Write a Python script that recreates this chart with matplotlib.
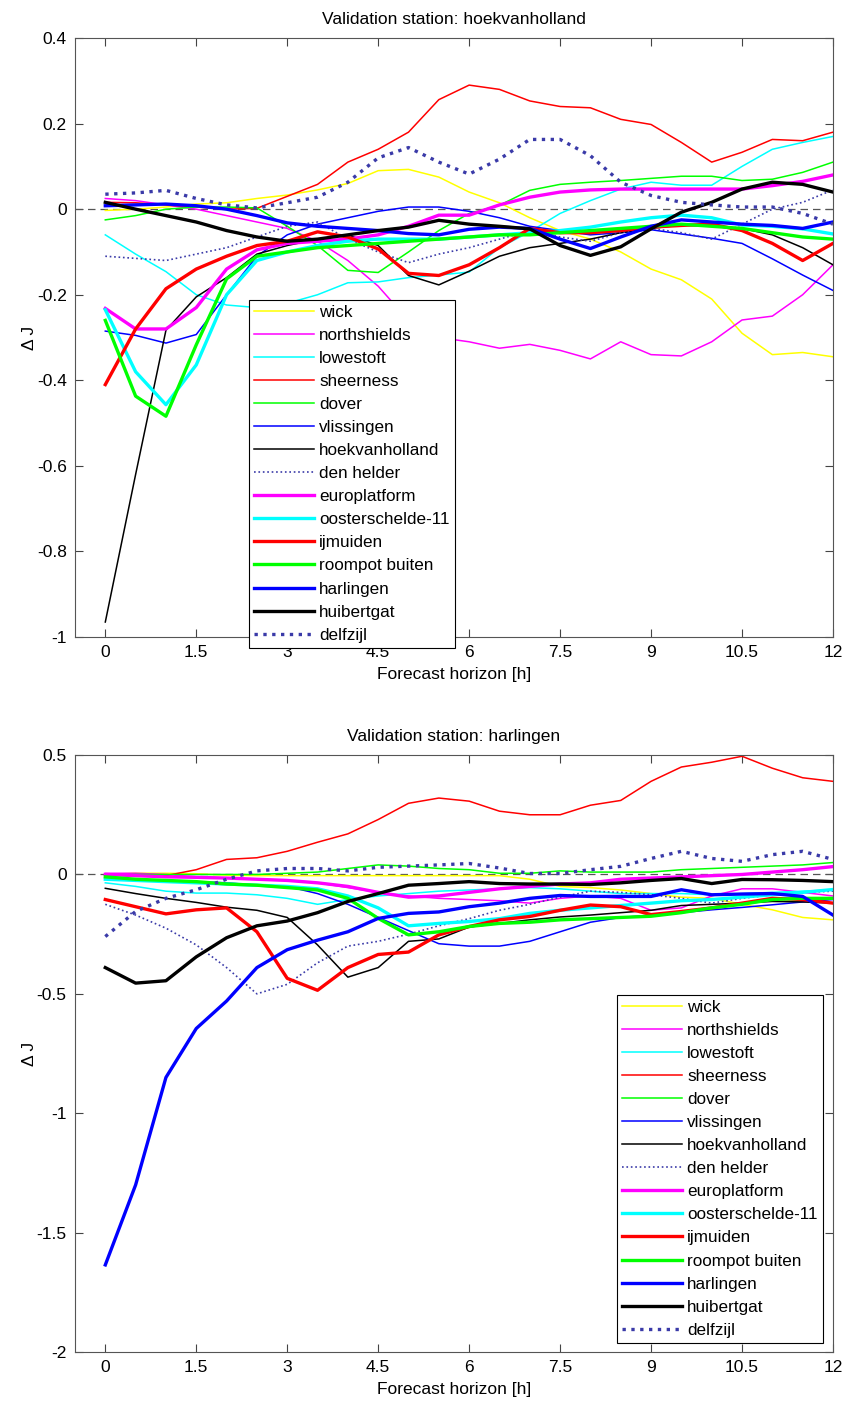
import matplotlib
matplotlib.use('Agg')
import matplotlib.pyplot as plt
import numpy as np

plt.rcParams['font.family'] = ['Liberation Sans', 'DejaVu Sans']

# forecast horizon (h)
hours = np.arange(0, 12.5, 0.5)

stations = ['wick', 'northshields', 'lowestoft', 'sheerness', 'dover', 'vlissingen',
            'hoekvanholland', 'den helder', 'europlatform', 'oosterschelde-11',
            'ijmuiden', 'roompot buiten', 'harlingen', 'huibertgat', 'delfzijl']

# ---- validation station: hoekvanholland ----
hvh_wick = [-0.003, 0.0, 0.005, 0.012, 0.015, 0.025, 0.033, 0.045, 0.06, 0.09, 0.093, 0.075, 0.04,
            0.015, -0.02, -0.05, -0.07, -0.1, -0.14, -0.165, -0.21, -0.29, -0.34, -0.335, -0.345]
hvh_northshields = [0.025, 0.02, 0.01, 0.0, -0.015, -0.03, -0.045, -0.075, -0.12, -0.18, -0.26, -0.3, -0.31,
                    -0.325, -0.316, -0.33, -0.35, -0.31, -0.34, -0.343, -0.31, -0.259, -0.25, -0.2, -0.13]
hvh_lowestoft = [-0.06, -0.105, -0.146, -0.2, -0.224, -0.23, -0.22, -0.2, -0.172, -0.17, -0.16, -0.154, -0.147,
                 -0.09, -0.053, -0.01, 0.02, 0.047, 0.063, 0.056, 0.056, 0.1, 0.14, 0.156, 0.17]
hvh_sheerness = [0.016, 0.015, 0.01, 0.005, 0.0, 0.002, 0.03, 0.058, 0.11, 0.14, 0.18, 0.256, 0.29,
                 0.28, 0.253, 0.24, 0.237, 0.21, 0.198, 0.156, 0.11, 0.133, 0.163, 0.16, 0.18]
hvh_dover = [-0.025, -0.015, 0.0, 0.005, 0.005, 0.003, -0.04, -0.085, -0.143, -0.148, -0.1, -0.05, -0.01,
             0.009, 0.044, 0.058, 0.063, 0.067, 0.072, 0.077, 0.077, 0.067, 0.07, 0.086, 0.11]
hvh_vlissingen = [-0.285, -0.295, -0.313, -0.293, -0.2, -0.11, -0.06, -0.035, -0.02, -0.005, 0.005, 0.005, -0.005,
                  -0.02, -0.04, -0.05, -0.06, -0.055, -0.048, -0.058, -0.068, -0.08, -0.116, -0.154, -0.19]
hvh_hoekvanholland = [-0.965, -0.62, -0.283, -0.205, -0.16, -0.105, -0.085, -0.07, -0.06, -0.085, -0.155, -0.177, -0.145,
                      -0.11, -0.09, -0.08, -0.07, -0.055, -0.045, -0.037, -0.04, -0.045, -0.06, -0.09, -0.13]
hvh_denhelder = [-0.11, -0.115, -0.12, -0.105, -0.09, -0.065, -0.04, -0.03, -0.07, -0.1, -0.125, -0.105, -0.09,
                 -0.07, -0.05, -0.065, -0.075, -0.055, -0.045, -0.055, -0.07, -0.035, 0.0, 0.016, 0.045]
hvh_europlatform = [-0.232, -0.28, -0.28, -0.23, -0.14, -0.095, -0.08, -0.075, -0.07, -0.06, -0.04, -0.014, -0.014,
                    0.01, 0.028, 0.04, 0.045, 0.047, 0.047, 0.047, 0.047, 0.047, 0.055, 0.065, 0.08]
hvh_oosterschelde = [-0.235, -0.38, -0.457, -0.364, -0.2, -0.12, -0.1, -0.085, -0.075, -0.07, -0.07, -0.07, -0.065,
                     -0.06, -0.055, -0.05, -0.042, -0.03, -0.02, -0.014, -0.02, -0.037, -0.04, -0.046, -0.058]
hvh_ijmuiden = [-0.41, -0.28, -0.186, -0.14, -0.11, -0.085, -0.075, -0.053, -0.065, -0.093, -0.15, -0.155, -0.13,
                -0.09, -0.045, -0.055, -0.055, -0.05, -0.042, -0.038, -0.035, -0.05, -0.08, -0.12, -0.08]
hvh_roompot = [-0.26, -0.437, -0.484, -0.317, -0.163, -0.11, -0.1, -0.09, -0.085, -0.08, -0.075, -0.07, -0.065,
               -0.06, -0.06, -0.055, -0.05, -0.045, -0.04, -0.035, -0.04, -0.045, -0.055, -0.065, -0.07]
hvh_harlingen = [0.008, 0.01, 0.012, 0.008, 0.0, -0.015, -0.032, -0.04, -0.045, -0.05, -0.057, -0.06, -0.047,
                 -0.042, -0.045, -0.07, -0.092, -0.065, -0.04, -0.025, -0.03, -0.035, -0.038, -0.045, -0.03]
hvh_huibertgat = [0.016, 0.0, -0.015, -0.03, -0.05, -0.065, -0.075, -0.07, -0.06, -0.05, -0.042, -0.026, -0.035,
                  -0.04, -0.046, -0.085, -0.108, -0.088, -0.046, -0.007, 0.016, 0.047, 0.063, 0.058, 0.04]
hvh_delfzijl = [0.035, 0.038, 0.044, 0.025, 0.01, 0.003, 0.015, 0.028, 0.063, 0.12, 0.144, 0.11, 0.082,
                0.117, 0.163, 0.163, 0.125, 0.063, 0.032, 0.016, 0.01, 0.005, 0.005, -0.01, -0.035]

# ---- validation station: harlingen ----
har_wick = [0.0, 0.005, 0.005, 0.003, -0.003, -0.005, -0.005, -0.005, -0.005, -0.005, -0.005, -0.005, -0.005,
            -0.005, -0.02, -0.05, -0.055, -0.065, -0.08, -0.095, -0.1, -0.125, -0.148, -0.18, -0.19]
har_northshields = [0.005, 0.005, 0.0, -0.01, -0.015, -0.02, -0.025, -0.035, -0.055, -0.075, -0.09, -0.1, -0.105,
                    -0.11, -0.12, -0.1, -0.09, -0.1, -0.15, -0.14, -0.09, -0.06, -0.06, -0.075, -0.09]
har_lowestoft = [-0.035, -0.05, -0.07, -0.078, -0.078, -0.085, -0.1, -0.125, -0.105, -0.09, -0.08, -0.07, -0.065,
                 -0.06, -0.055, -0.06, -0.07, -0.08, -0.08, -0.08, -0.085, -0.08, -0.075, -0.07, -0.065]
har_sheerness = [0.0, -0.005, -0.005, 0.02, 0.063, 0.07, 0.097, 0.135, 0.17, 0.23, 0.298, 0.32, 0.307,
                 0.265, 0.25, 0.25, 0.29, 0.31, 0.39, 0.45, 0.47, 0.495, 0.445, 0.405, 0.39]
har_dover = [-0.005, 0.0, 0.0, 0.0, 0.0, 0.0, 0.005, 0.01, 0.025, 0.04, 0.035, 0.025, 0.02,
             0.005, 0.005, 0.015, 0.01, 0.01, 0.01, 0.02, 0.025, 0.03, 0.035, 0.04, 0.05]
har_vlissingen = [-0.015, -0.02, -0.025, -0.03, -0.035, -0.045, -0.05, -0.08, -0.125, -0.18, -0.235, -0.29, -0.3,
                  -0.3, -0.28, -0.24, -0.2, -0.18, -0.17, -0.16, -0.148, -0.138, -0.127, -0.115, -0.105]
har_hoekvanholland = [-0.058, -0.08, -0.1, -0.117, -0.137, -0.15, -0.18, -0.295, -0.43, -0.39, -0.28, -0.27, -0.22,
                      -0.205, -0.19, -0.178, -0.17, -0.16, -0.15, -0.13, -0.125, -0.12, -0.113, -0.115, -0.12]
har_denhelder = [-0.125, -0.17, -0.225, -0.295, -0.39, -0.5, -0.46, -0.37, -0.3, -0.28, -0.25, -0.215, -0.185,
                 -0.15, -0.125, -0.095, -0.07, -0.075, -0.085, -0.1, -0.12, -0.1, -0.085, -0.075, -0.07]
har_europlatform = [0.0, -0.005, -0.01, -0.012, -0.015, -0.02, -0.025, -0.035, -0.05, -0.075, -0.095, -0.09, -0.075,
                    -0.06, -0.05, -0.04, -0.035, -0.02, -0.015, -0.01, -0.005, 0.0, 0.01, 0.02, 0.033]
har_oosterschelde = [-0.02, -0.025, -0.03, -0.035, -0.04, -0.045, -0.05, -0.06, -0.09, -0.14, -0.215, -0.205, -0.197,
                     -0.185, -0.163, -0.15, -0.14, -0.13, -0.12, -0.11, -0.105, -0.095, -0.085, -0.075, -0.063]
har_ijmuiden = [-0.105, -0.135, -0.165, -0.148, -0.14, -0.24, -0.435, -0.485, -0.39, -0.335, -0.325, -0.253, -0.218,
                -0.19, -0.176, -0.15, -0.128, -0.135, -0.168, -0.155, -0.14, -0.12, -0.1, -0.105, -0.12]
har_roompot = [-0.01, -0.02, -0.025, -0.03, -0.04, -0.045, -0.055, -0.065, -0.1, -0.184, -0.253, -0.24, -0.218,
               -0.205, -0.2, -0.19, -0.185, -0.18, -0.175, -0.16, -0.14, -0.125, -0.105, -0.1, -0.1]
har_harlingen = [-1.635, -1.3, -0.85, -0.645, -0.53, -0.39, -0.315, -0.275, -0.24, -0.184, -0.163, -0.157, -0.135,
                 -0.12, -0.1, -0.088, -0.092, -0.092, -0.092, -0.064, -0.085, -0.082, -0.08, -0.092, -0.17]
har_huibertgat = [-0.39, -0.455, -0.445, -0.345, -0.265, -0.215, -0.195, -0.16, -0.113, -0.08, -0.045, -0.038, -0.03,
                  -0.038, -0.04, -0.04, -0.042, -0.035, -0.025, -0.017, -0.038, -0.021, -0.022, -0.025, -0.03]
har_delfzijl = [-0.26, -0.155, -0.1, -0.064, -0.02, 0.015, 0.025, 0.025, 0.015, 0.03, 0.035, 0.04, 0.046,
                0.027, 0.004, 0.004, 0.02, 0.034, 0.067, 0.097, 0.067, 0.055, 0.083, 0.097, 0.063]

top_series = [hvh_wick, hvh_northshields, hvh_lowestoft, hvh_sheerness, hvh_dover, hvh_vlissingen,
              hvh_hoekvanholland, hvh_denhelder, hvh_europlatform, hvh_oosterschelde, hvh_ijmuiden,
              hvh_roompot, hvh_harlingen, hvh_huibertgat, hvh_delfzijl]
bottom_series = [har_wick, har_northshields, har_lowestoft, har_sheerness, har_dover, har_vlissingen,
                 har_hoekvanholland, har_denhelder, har_europlatform, har_oosterschelde, har_ijmuiden,
                 har_roompot, har_harlingen, har_huibertgat, har_delfzijl]

xticks = [0, 1.5, 3, 4.5, 6, 7.5, 9, 10.5, 12]
xticklabels = ['0', '1.5', '3', '4.5', '6', '7.5', '9', '10.5', '12']
top_yticks = [-1, -0.8, -0.6, -0.4, -0.2, 0, 0.2, 0.4]
top_yticklabels = ['-1', '-0.8', '-0.6', '-0.4', '-0.2', '0', '0.2', '0.4']
bottom_yticks = [-2, -1.5, -1, -0.5, 0, 0.5]
bottom_yticklabels = ['-2', '-1.5', '-1', '-0.5', '0', '0.5']

# line styles per station (MATLAB-like colours)
dotted = '#3a3aa8'
colors = ['#ffff00', '#ff00ff', '#00ffff', '#ff0000', '#00ff00', '#0000ff', 'black', dotted,
          '#ff00ff', '#00ffff', '#ff0000', '#00ff00', '#0000ff', 'black', dotted]
widths = [1.1, 1.1, 1.1, 1.1, 1.1, 1.1, 1.1, 1.2, 2.4, 2.4, 2.4, 2.4, 2.4, 2.4, 2.4]
styles = ['-', '-', '-', '-', '-', '-', '-', ':', '-', '-', '-', '-', '-', '-', ':']

fig = plt.figure(figsize=(8.56, 14.04), dpi=100)
ax1 = fig.add_axes([0.0876, 0.5463, 0.8855, 0.4266])
ax2 = fig.add_axes([0.0876, 0.0370, 0.8855, 0.4252])


def draw(ax, series, title, yticks, yticklabels, ylim, legend_xy):
    ax.plot([-0.5, 12], [0, 0], ls=(0, (6, 4)), color='#555555', lw=0.9)
    lines = []
    for s, name, c, w, ls in zip(series, stations, colors, widths, styles):
        ln, = ax.plot(hours, s, color=c, lw=w, ls=ls, label=name)
        lines.append(ln)
    ax.set_xlim(-0.5, 12)
    ax.set_ylim(*ylim)
    ax.set_xticks(xticks)
    ax.set_xticklabels(xticklabels)
    ax.set_yticks(yticks)
    ax.set_yticklabels(yticklabels)
    ax.tick_params(direction='in', which='both', top=True, right=True, length=6,
                   labelsize=12.5, color='#444444', pad=6)
    for sp in ax.spines.values():
        sp.set_color('#555555')
        sp.set_linewidth(0.8)
    ax.set_title(title, fontsize=12.5, pad=10)
    ax.set_xlabel('Forecast horizon [h]', fontsize=12.5, labelpad=5)
    ax.set_ylabel('Δ J', fontsize=12.5, labelpad=0)
    leg = ax.legend(lines, stations, loc='upper left', bbox_to_anchor=legend_xy,
                    fontsize=12.3, frameon=True, fancybox=False, framealpha=1,
                    edgecolor='black', borderaxespad=0, handlelength=3.5,
                    handletextpad=0.3, labelspacing=0.47, borderpad=0.3)
    leg.get_frame().set_linewidth(0.8)
    leg.set_zorder(10)


draw(ax1, top_series, 'Validation station: hoekvanholland', top_yticks, top_yticklabels,
     (-1, 0.4), (0.2296, 0.5626))
draw(ax2, bottom_series, 'Validation station: harlingen', bottom_yticks, bottom_yticklabels,
     (-2, 0.5), (0.715, 0.598))

fig.savefig('out.png', dpi=100)
